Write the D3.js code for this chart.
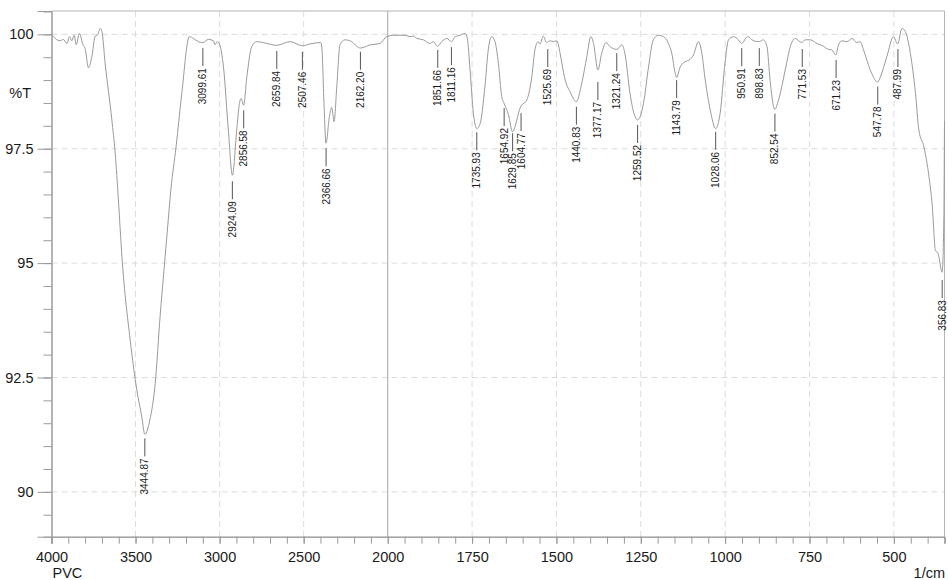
<!DOCTYPE html>
<html>
<head>
<meta charset="utf-8">
<script src="https://cdn.jsdelivr.net/npm/d3@7"></script>
<style>
  html, body { margin: 0; padding: 0; background: #fff; }
  svg { display: block; font-family: "Liberation Sans", Arial, Helvetica, sans-serif; }
</style>
</head>
<body>
<svg id="chart" width="948" height="580"></svg>
<script>
// ---------------- data ----------------
const wavenumbers = [4000,3978,3948,3929,3908,3893,3879,3865,3853,3834,3813,3800,3780,3760,3740,3727,3710,3700,3681,3641,3621,3602,3581,3532,3492,3463,3445,3415,3383,3354,3324,3304,3290,3259,3225,3180,3156,3126,3100,3067,3037,3027,3013,3001,2977,2948,2924,2898,2882,2872,2857,2838,2809,2779,2719,2660,2581,2507,2462,2398,2392,2379,2367,2347,2333,2319,2303,2284,2254,2214,2184,2162,2105,2046,2006,1983,1949,1934,1924,1913,1894,1875,1865,1852,1840,1825,1811,1800,1786,1771,1764,1756,1746,1736,1726,1712,1702,1692,1682,1672,1662,1655,1642,1630,1620,1610,1605,1588,1573,1563,1554,1549,1539,1529,1519,1509,1499,1489,1484,1474,1460,1441,1425,1410,1398,1390,1377,1366,1353,1341,1321,1306,1297,1282,1267,1259,1242,1227,1213,1198,1183,1168,1158,1148,1144,1133,1119,1104,1094,1079,1069,1059,1044,1028,1015,1000,990,975,961,951,934,916,899,887,876,867,853,842,822,807,793,773,763,748,728,709,694,684,672,664,654,639,624,610,600,590,570,548,540,521,501,489,476,466,451,436,426,411,396,386,377,369,357,352,350];
const transmittance = [100.00,99.91,99.86,99.89,99.80,99.95,99.86,99.98,99.77,100.02,99.77,99.69,99.27,99.51,99.96,99.98,100.13,100.06,99.37,98.13,97.40,96.38,95.14,93.32,92.22,91.64,91.26,91.57,92.37,93.83,95.14,96.01,96.60,97.54,98.71,99.95,99.91,99.84,99.82,99.89,99.86,99.77,99.84,99.79,99.29,97.91,96.92,97.91,98.49,98.60,98.45,99.07,99.73,99.84,99.80,99.76,99.84,99.75,99.79,99.82,99.73,98.49,97.62,98.20,98.40,98.09,98.85,99.77,99.88,99.84,99.74,99.70,99.77,99.80,99.95,99.98,99.98,99.95,99.96,99.91,99.88,99.80,99.84,99.74,99.84,99.91,99.84,99.95,99.98,100.02,99.91,99.22,98.27,97.94,98.05,98.85,99.66,99.95,99.84,99.37,98.64,98.49,98.24,97.87,98.05,98.34,98.43,98.56,99.07,99.69,99.84,99.79,99.96,99.82,99.86,99.84,99.86,99.58,99.37,99.00,98.75,98.53,98.93,99.51,99.95,99.80,99.22,99.58,99.82,99.73,99.67,99.77,99.58,98.71,98.20,98.13,98.49,99.29,99.88,99.98,99.95,99.80,99.58,99.15,99.06,99.29,99.40,99.45,99.55,99.84,99.58,99.00,98.34,97.94,98.27,99.40,99.88,99.95,99.88,99.80,99.95,99.86,99.84,99.88,99.73,99.00,98.36,98.56,99.22,99.73,99.91,99.82,99.88,99.88,99.80,99.74,99.67,99.66,99.55,99.77,99.86,99.84,99.91,99.82,99.84,99.66,99.22,98.96,99.07,99.51,99.95,99.79,100.13,100.06,99.58,98.71,97.91,97.54,96.89,96.23,95.28,95.21,94.80,95.94,98.10];

const peakLabels = ["3444.87","3099.61","2924.09","2856.58","2659.84","2507.46","2366.66","2162.20","1851.66","1811.16","1735.93","1654.92","1629.85","1604.77","1525.69","1440.83","1377.17","1321.24","1259.52","1143.79","1028.06","950.91","898.83","852.54","771.53","671.23","547.78","487.99","356.83"];
const peakWavenumbers = [3444.87,3099.61,2924.09,2856.58,2659.84,2507.46,2366.66,2162.20,1851.66,1811.16,1735.93,1654.92,1629.85,1604.77,1525.69,1440.83,1377.17,1321.24,1259.52,1143.79,1028.06,950.91,898.83,852.54,771.53,671.23,547.78,487.99,356.83];
const peakTransmittance = [91.30,99.83,96.92,98.47,99.77,99.75,97.64,99.75,99.79,99.85,97.99,98.52,97.97,98.41,99.81,98.55,99.09,99.72,98.15,99.13,98.00,99.83,99.83,98.40,99.81,99.57,98.99,99.81,94.76];

const xMajorTicks = [4000,3500,3000,2500,2000,1750,1500,1250,1000,750,500];
const xMinorTicks = d3.range(4000, 1999, -100).concat(d3.range(1950, 349, -50));
const yMajorTicks = [90, 92.5, 95, 97.5, 100];
const yMinorTicks = d3.range(89.5, 100.51, 0.5);

const sampleName = "PVC";
const yTitle = "%T";
const xUnit = "1/cm";

// ---------------- layout ----------------
const plotL = 51.5, plotR = 944.5, plotT = 11, plotB = 536.7;
const splitX = 387.7;

const svg = d3.select("#chart");

const x = d3.scaleLinear().domain([4000, 2000, 350]).range([plotL, splitX, plotR]);
const y = d3.scaleLinear().domain([89.02, 100.51]).range([plotB, plotT]);

const gridColor = "#dcdcdc";
const axisColor = "#9a9a9a";
const textColor = "#1a1a1a";

// grid lines
svg.append("g").selectAll("line")
  .data(xMajorTicks.filter(d => d !== 4000 && d !== 2000))
  .join("line")
  .attr("x1", d => x(d)).attr("x2", d => x(d))
  .attr("y1", plotT).attr("y2", plotB)
  .attr("stroke", gridColor).attr("stroke-width", 1)
  .attr("stroke-dasharray", "6,4");

svg.append("g").selectAll("line")
  .data(yMajorTicks)
  .join("line")
  .attr("x1", plotL).attr("x2", plotR)
  .attr("y1", d => y(d)).attr("y2", d => y(d))
  .attr("stroke", gridColor).attr("stroke-width", 1)
  .attr("stroke-dasharray", "6,4");

// solid divider at 2000
svg.append("line")
  .attr("x1", x(2000)).attr("x2", x(2000))
  .attr("y1", plotT).attr("y2", plotB)
  .attr("stroke", "#b4b4b4").attr("stroke-width", 1.2);

// frame: top and right
svg.append("line").attr("x1", plotL).attr("x2", plotR).attr("y1", plotT).attr("y2", plotT)
  .attr("stroke", "#b4b4b4").attr("stroke-width", 1);
svg.append("line").attr("x1", plotR).attr("x2", plotR).attr("y1", plotT).attr("y2", plotB)
  .attr("stroke", "#b4b4b4").attr("stroke-width", 1);

// axes
function styleAxis(g) {
  g.select(".domain").attr("stroke", axisColor);
  g.selectAll(".tick line").attr("stroke", axisColor);
  g.selectAll(".tick text").attr("fill", textColor).style("font-size", "14.5px")
    .style("font-family", '"Liberation Sans", Arial, Helvetica, sans-serif');
}

// x minor
svg.append("g").attr("transform", `translate(0,${plotB})`)
  .call(d3.axisBottom(x).tickValues(xMinorTicks).tickSize(7).tickFormat(""))
  .call(styleAxis);
// x major
svg.append("g").attr("transform", `translate(0,${plotB})`)
  .call(d3.axisBottom(x).tickValues(xMajorTicks).tickSize(7).tickPadding(8).tickFormat(d3.format("d")))
  .call(styleAxis);

// y minor
svg.append("g").attr("transform", `translate(${plotL},0)`)
  .call(d3.axisLeft(y).tickValues(yMinorTicks).tickSize(8).tickFormat(""))
  .call(styleAxis);
// y major
svg.append("g").attr("transform", `translate(${plotL},0)`)
  .call(d3.axisLeft(y).tickValues(yMajorTicks).tickSize(14).tickPadding(4).tickFormat(d => String(d)))
  .call(styleAxis);

// axis titles
svg.append("text").attr("x", 31).attr("y", 98).attr("text-anchor", "end")
  .attr("fill", textColor).style("font-size", "14.5px").text(yTitle);
svg.append("text").attr("x", 52.5).attr("y", 577.5).attr("text-anchor", "start")
  .attr("fill", textColor).style("font-size", "14.5px").text(sampleName);
svg.append("text").attr("x", 945).attr("y", 577.5).attr("text-anchor", "end")
  .attr("fill", textColor).style("font-size", "14.5px").text(xUnit);

// spectrum
const pts = wavenumbers.map((w, i) => [w, transmittance[i]]);
svg.append("path")
  .datum(pts)
  .attr("fill", "none")
  .attr("stroke", "#9a9a9a")
  .attr("stroke-width", 1)
  .attr("d", d3.line().x(d => x(d[0])).y(d => y(d[1])).curve(d3.curveMonotoneX));

// peak labels
const peaks = peakLabels.map((t, i) => ({ label: t, w: peakWavenumbers[i], t: peakTransmittance[i] }));
const pg = svg.append("g").selectAll("g").data(peaks).join("g");
pg.append("line")
  .attr("x1", d => x(d.w)).attr("x2", d => x(d.w))
  .attr("y1", d => y(d.t) + 6).attr("y2", d => y(d.t) + 24)
  .attr("stroke", "#555").attr("stroke-width", 1);
pg.append("text")
  .attr("transform", d => `translate(${x(d.w)},${y(d.t) + 26}) rotate(-90)`)
  .attr("text-anchor", "end")
  .attr("dy", "0.35em")
  .attr("fill", textColor)
  .style("font-size", "10px")
  .text(d => d.label);
</script>
</body>
</html>
